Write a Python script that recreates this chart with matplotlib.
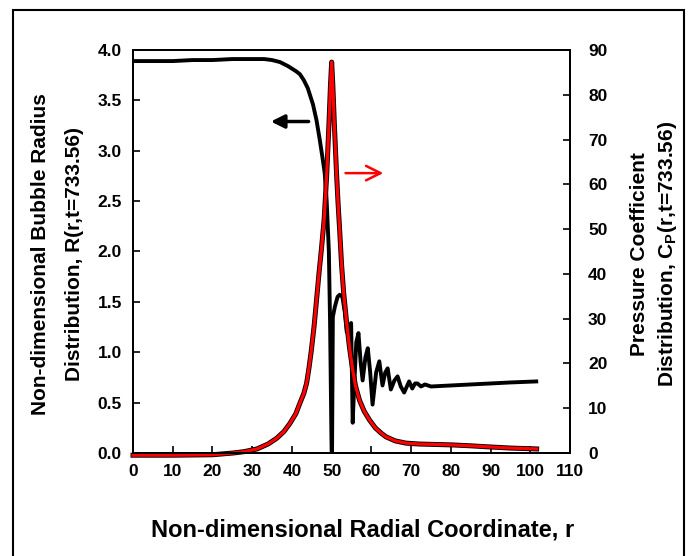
import numpy as np
import matplotlib.pyplot as plt
from matplotlib.patches import Rectangle

plt.rcParams['font.family'] = ['Liberation Sans', 'DejaVu Sans']
plt.rcParams['font.weight'] = 'bold'
plt.rcParams['mathtext.default'] = 'regular'

# bubble radius R(r) at t=733.56 (left axis)
r_R = [0, 5, 10, 15, 20, 25, 30, 33, 35, 37, 39, 41, 42, 43, 44, 45.3, 46.2, 47,
       47.7, 48.25, 48.75, 49.3, 49.6, 49.9, 50.0, 50.1, 50.3, 50.8, 51.5, 52,
       52.7, 53.3, 53.8, 54.3, 54.9, 55.3, 55.6, 56.2, 56.75, 57.3, 57.8, 58.5,
       59.1, 59.7, 60.3, 61.2, 62, 62.8, 63.5, 64.1, 64.9, 65.8, 66.6, 67.4,
       68.25, 69.5, 70.3, 71.0, 71.6, 72.5, 73.5, 75, 80, 85, 90, 95, 101.5]
R = [3.89, 3.89, 3.89, 3.90, 3.90, 3.91, 3.91, 3.91, 3.90, 3.88, 3.84, 3.79,
     3.76, 3.70, 3.62, 3.46, 3.30, 3.11, 2.93, 2.78, 2.50, 2.00, 1.30, 0.30,
     0.0, 0.0, 1.35, 1.45, 1.55, 1.57, 1.55, 1.40, 1.20, 1.25, 1.29, 0.30, 0.60,
     1.10, 1.19, 0.90, 0.72, 0.95, 1.04, 0.80, 0.48, 0.80, 0.91, 0.67, 0.80,
     0.84, 0.63, 0.72, 0.76, 0.66, 0.60, 0.71, 0.64, 0.69, 0.69, 0.66, 0.68,
     0.66, 0.67, 0.68, 0.69, 0.70, 0.71]

# pressure coefficient Cp(r) at t=733.56 (right axis)
r_cp = [0, 10, 20, 25.3, 28, 31.2, 34, 36.2, 38, 39.5, 41, 42, 43, 43.7, 44.3,
        44.9, 45.6, 46.2, 46.8, 47.4, 48.1, 48.75, 49.3, 49.7, 50.0, 50.3, 50.7,
        51.2, 51.6, 52.0, 52.5, 53, 53.7, 54.5, 55.3, 56, 57, 58.2, 59.5, 61,
        62.5, 63.7, 66, 68.7, 72, 76, 80.3, 85, 88.7, 95, 101.6]
cp = [-0.5, -0.5, -0.4, 0.0, 0.3, 0.9, 2.0, 3.3, 4.8, 6.6, 8.8, 11.1, 13.3,
      15.6, 19, 23, 28.5, 34.2, 40, 45.3, 52, 62, 73, 82, 87.3, 82, 73, 63, 56,
      50, 42, 36, 29.7, 23.5, 18.5, 15, 11.8, 9.3, 7.4, 5.6, 4.4, 3.6, 2.7, 2.2,
      2.0, 1.9, 1.8, 1.6, 1.4, 1.1, 0.9]

fig = plt.figure(figsize=(6.91, 5.56), dpi=100)
ax = fig.add_axes([0.1925, 0.1853, 0.6324, 0.7248])
ax2 = ax.twinx()

ax.plot(r_R, R, color='black', lw=2.8, zorder=3)
ax2.plot(r_cp, cp, color='black', lw=3.6, clip_on=False)
ax2.plot(r_cp, cp, color='red', lw=2.3, clip_on=False)

ax.set_xlim(0, 110)
ax.set_ylim(0, 4.0)
ax2.set_ylim(0, 90)
ax.set_xticks(np.arange(0, 111, 10))
ax.set_yticks(np.arange(0, 4.01, 0.5))
ax.set_yticklabels(['%.1f' % v for v in np.arange(0, 4.01, 0.5)])
ax2.set_yticks(np.arange(0, 91, 10))

for a in (ax, ax2):
    a.tick_params(direction='in', length=5, width=1.2, labelsize=12.5)
    for s in a.spines.values():
        s.set_linewidth(1.4)
ax.tick_params(axis='x', pad=8)
ax.tick_params(axis='y', pad=8)
ax2.tick_params(axis='y', pad=13)

ax.annotate('', xy=(34, 3.29), xytext=(44.9, 3.29),
            arrowprops=dict(arrowstyle='-|>', color='black', lw=2.5,
                            mutation_scale=20))
ax2.annotate('', xy=(63.7, 62.5), xytext=(52.8, 62.5),
             arrowprops=dict(arrowstyle='->', color='red', lw=1.8,
                             mutation_scale=26))

fig.text(0.525, 0.047, 'Non-dimensional Radial Coordinate, r',
         ha='center', va='center', fontsize=17, fontweight='bold')
fig.text(0.058, 0.543, 'Non-dimensional Bubble Radius', rotation=90,
         ha='center', va='center', fontsize=15, fontweight='bold')
fig.text(0.108, 0.543, 'Distribution, R(r,t=733.56)', rotation=90,
         ha='center', va='center', fontsize=15, fontweight='bold')
fig.text(0.926, 0.543, 'Pressure Coefficient', rotation=90,
         ha='center', va='center', fontsize=15, fontweight='bold')
fig.text(0.966, 0.543, r'Distribution, C$_\mathregular{P}$(r,t=733.56)',
         rotation=90, ha='center', va='center', fontsize=15, fontweight='bold')

fig.patches.append(Rectangle((13 / 691, -0.05), (684 - 13) / 691, 1 - 10 / 556 + 0.05,
                             transform=fig.transFigure, fill=False,
                             edgecolor='black', lw=1.5))

fig.savefig('out.png', dpi=100)
